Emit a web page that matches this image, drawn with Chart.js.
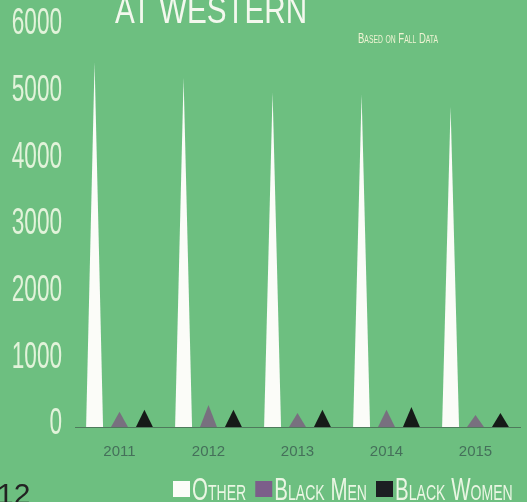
<!DOCTYPE html>
<html>
<head>
<meta charset="utf-8">
<script src="https://cdn.jsdelivr.net/npm/chart.js@4/dist/chart.umd.min.js"></script>
<style>
  html, body { margin: 0; padding: 0; background: #6dbf80; overflow: hidden; }
  #wrap { width: 527px; height: 502px; }
</style>
</head>
<body>
<div id="wrap"><canvas id="myChart" width="527" height="502"></canvas></div>
<script>
var years = ['2011', '2012', '2013', '2014', '2015'];
var other = [5470, 5240, 5020, 4990, 4800];
var blackMen = [230, 330, 210, 260, 180];
var blackWomen = [260, 260, 260, 300, 210];

var sans = "'Liberation Sans', Arial, sans-serif";

// condensed look: squeeze text horizontally
var squeezed = function(ctx, text, x, y, sx, align) {
  ctx.save();
  var w = ctx.measureText(text).width * sx;
  if (align === 'right') x = x - w;
  ctx.translate(x, y);
  ctx.scale(sx, 1);
  ctx.fillText(text, 0, 0);
  ctx.restore();
  return w;
};

// bars are drawn as triangles (base = bar width, tip = value)
var triangles = {
  id: 'triangles',
  beforeDatasetDraw: function(chart, args) {
    var ctx = chart.ctx;
    var ds = chart.data.datasets[args.index];
    ctx.save();
    ctx.fillStyle = ds.backgroundColor;
    args.meta.data.forEach(function(el) {
      var p = el.getProps(['x', 'y', 'base', 'width'], true);
      ctx.beginPath();
      ctx.moveTo(p.x - p.width / 2, p.base);
      ctx.lineTo(p.x, p.y);
      ctx.lineTo(p.x + p.width / 2, p.base);
      ctx.closePath();
      ctx.fill();
    });
    ctx.restore();
    return false;
  }
};

// y labels, heading, note, legend and page number
var extras = {
  id: 'extras',
  afterDraw: function(chart) {
    var ctx = chart.ctx;
    var y = chart.scales.y;
    ctx.save();
    ctx.textBaseline = 'middle';
    ctx.fillStyle = '#e2f3da';
    ctx.font = '37px ' + sans;
    y.ticks.forEach(function(t) {
      squeezed(ctx, String(t.value), 62, y.getPixelForValue(t.value) - 3, 0.61, 'right');
    });

    ctx.textBaseline = 'alphabetic';
    ctx.fillStyle = '#f4f8ee';
    ctx.font = '38px ' + sans;
    squeezed(ctx, 'AT WESTERN', 115, 23, 0.78);

    ctx.fillStyle = '#eef3d2';
    ctx.font = 'small-caps 14px ' + sans;
    squeezed(ctx, 'Based on Fall Data', 358, 43, 0.68);

    // legend
    var lx = 173;
    ctx.font = 'small-caps 32px ' + sans;
    chart.data.datasets.forEach(function(ds) {
      ctx.fillStyle = ds.legendColor || ds.backgroundColor;
      ctx.fillRect(lx, 481, 17, 16);
      ctx.fillStyle = '#eaf6e3';
      lx += 19 + squeezed(ctx, ds.label, lx + 19, 500, 0.64) + 9;
    });

    ctx.fillStyle = '#222';
    ctx.font = '30px ' + sans;
    ctx.fillText('12', -3, 504);
    ctx.restore();
  }
};

var ctx = document.getElementById('myChart');
var myChart = new Chart(ctx, {
  type: 'bar',
  data: {
    labels: years,
    datasets: [
      { label: 'Other', data: other, backgroundColor: '#fbfcf8' },
      { label: 'Black Men', data: blackMen, backgroundColor: '#78707f', legendColor: '#7c5e8a' },
      { label: 'Black Women', data: blackWomen, backgroundColor: '#161a18', legendColor: '#1c1f22' }
    ]
  },
  options: {
    responsive: false,
    animation: false,
    barPercentage: 0.68,
    categoryPercentage: 0.84,
    layout: { padding: { top: 27, right: 7, left: 0, bottom: 30 } },
    plugins: {
      tooltip: { enabled: false },
      legend: { display: false }
    },
    scales: {
      x: {
        afterFit: function(scale) { scale.height = 45; },
        grid: { display: false },
        border: { display: true, color: '#4e7a5c', width: 1 },
        ticks: { color: '#45705a', padding: 8, font: { family: sans, size: 15 } }
      },
      y: {
        min: 0,
        max: 6000,
        afterFit: function(scale) { scale.width = 75; },
        grid: { display: false },
        border: { display: false },
        ticks: { display: false, stepSize: 1000 }
      }
    }
  },
  plugins: [triangles, extras]
});
</script>
</body>
</html>
